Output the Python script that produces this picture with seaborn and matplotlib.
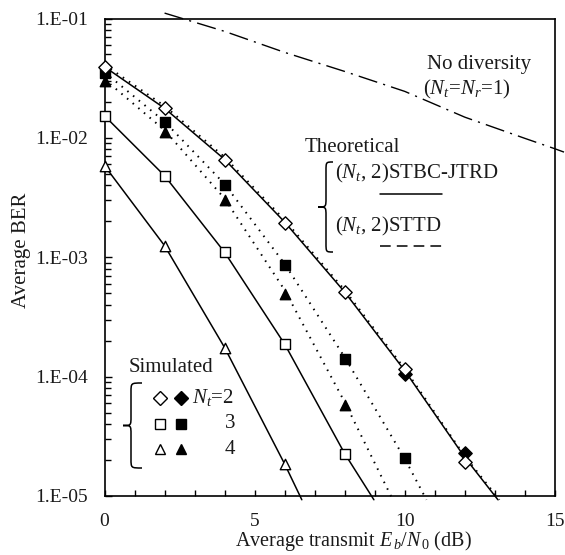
import numpy as np
import pandas as pd
import matplotlib
matplotlib.use("Agg")
import matplotlib.pyplot as plt
import seaborn as sns
from matplotlib.path import Path
from matplotlib.patches import PathPatch
from matplotlib.lines import Line2D
from matplotlib.ticker import LogLocator, NullFormatter, FixedLocator

# ---------------- data ----------------
# simulated points (x in dB)
sim_x_nt2 = [0, 2, 4, 6, 8, 10, 12]
sim_jtrd_nt2 = [3.94e-2, 1.77e-2, 6.53e-3, 1.95e-3, 5.09e-4, 1.15e-4, 1.94e-5]
sim_x_sttd_nt2 = [10, 12]
sim_sttd_nt2 = [1.05e-4, 2.31e-5]
sim_x_nt3 = [0, 2, 4, 6, 8]
sim_jtrd_nt3 = [1.53e-2, 4.82e-3, 1.10e-3, 1.87e-4, 2.26e-5]
sim_x_nt4 = [0, 2, 4, 6]
sim_jtrd_nt4 = [5.85e-3, 1.25e-3, 1.75e-4, 1.85e-5]
sim_x_sttd_nt3 = [0, 2, 4, 6, 8, 10]
sim_sttd_nt3 = [3.47e-2, 1.35e-2, 4.04e-3, 8.61e-4, 1.41e-4, 2.08e-5]
sim_x_sttd_nt4 = [0, 2, 4, 6, 8]
sim_sttd_nt4 = [3.01e-2, 1.13e-2, 3.02e-3, 4.93e-4, 5.80e-5]

# theoretical curves
th_x_jtrd_nt2 = [0, 2, 4, 6, 8, 10, 12, 13.1]
th_jtrd_nt2 = [3.94e-2, 1.77e-2, 6.6e-3, 1.97e-3, 5.1e-4, 1.12e-4, 2.1e-5, 9.3e-6]
th_x_sttd_nt2 = [0, 2, 4, 6, 8, 10, 12, 13.15]
th_sttd_nt2 = [4.1e-2, 1.85e-2, 6.9e-3, 2.05e-3, 5.3e-4, 1.16e-4, 2.15e-5, 9.3e-6]
th_x_jtrd_nt3 = [0, 2, 4, 6, 8, 8.97]
th_jtrd_nt3 = [1.53e-2, 4.82e-3, 1.10e-3, 1.87e-4, 2.26e-5, 9.3e-6]
th_x_jtrd_nt4 = [0, 2, 4, 6, 6.57]
th_jtrd_nt4 = [5.85e-3, 1.25e-3, 1.75e-4, 1.85e-5, 9.3e-6]
th_x_sttd_nt3 = [0, 2, 4, 6, 8, 10, 10.72]
th_sttd_nt3 = [3.55e-2, 1.37e-2, 4.1e-3, 8.8e-4, 1.45e-4, 2.05e-5, 9.3e-6]
th_x_sttd_nt4 = [0, 2, 4, 6, 8, 9.6]
th_sttd_nt4 = [3.1e-2, 1.16e-2, 3.1e-3, 5.3e-4, 6.1e-5, 9.3e-6]

# no diversity
nodiv_x = [2, 4, 6, 8, 10, 12, 14, 15, 15.3]
nodiv_ber = [0.111, 0.078, 0.052, 0.036, 0.0245, 0.0149, 0.0099, 0.0081, 0.0076]

y_ticks = [1e-5, 1e-4, 1e-3, 1e-2, 1e-1]
y_ticklabels = ["1.E-05", "1.E-04", "1.E-03", "1.E-02", "1.E-01"]
x_ticks = [0, 5, 10, 15]

# ---------------- style ----------------
sns.set_theme(style="ticks")
plt.rcParams["font.family"] = ["Liberation Serif", "DejaVu Serif"]
plt.rcParams["mathtext.fontset"] = "custom"
plt.rcParams["mathtext.rm"] = "Liberation Serif"
plt.rcParams["mathtext.it"] = "Liberation Serif:italic"
plt.rcParams["mathtext.bf"] = "Liberation Serif:bold"

W, H = 565, 555
fig = plt.figure(figsize=(W / 100, H / 100), dpi=100)
L, R, T, B = 104.5, 555, 18.5, 496
ax = fig.add_axes([L / W, 1 - B / H, (R - L) / W, (B - T) / H])
ax.set_yscale("log")
ax.set_xlim(0, 15)
ax.set_ylim(1e-5, 1e-1)


def px(x, y):
    return (x / W, 1 - y / H)


lw = 1.1
solid_kw = dict(color="black", linewidth=lw, clip_on=False)
dot_kw = dict(color="black", linewidth=1.4, clip_on=False)

for xs, ys in [(th_x_jtrd_nt2, th_jtrd_nt2), (th_x_jtrd_nt3, th_jtrd_nt3),
               (th_x_jtrd_nt4, th_jtrd_nt4)]:
    sns.lineplot(x=xs, y=ys, ax=ax, sort=False, estimator=None, **solid_kw)

for xs, ys in [(th_x_sttd_nt2, th_sttd_nt2), (th_x_sttd_nt3, th_sttd_nt3),
               (th_x_sttd_nt4, th_sttd_nt4)]:
    sns.lineplot(x=xs, y=ys, ax=ax, sort=False, estimator=None, **dot_kw)
    ax.lines[-1].set_dashes((0.8, 3.0))

sns.lineplot(x=nodiv_x, y=nodiv_ber, ax=ax, sort=False, estimator=None,
             color="black", linewidth=1.0, clip_on=False)
ax.lines[-1].set_dashes((14, 4.5, 1.5, 4.5))

mk_lw = 1.0
SZ = {"D": 6.8, "s": 6.5, "^": 7.5}


def scat(xs, ys, marker, filled):
    sns.scatterplot(x=xs, y=ys, ax=ax, marker=marker, s=SZ[marker] ** 2,
                    facecolor="black" if filled else "white",
                    edgecolor="black", linewidth=mk_lw, zorder=5, clip_on=False)


scat(sim_x_sttd_nt2, sim_sttd_nt2, "D", True)
scat(sim_x_sttd_nt3, sim_sttd_nt3, "s", True)
scat(sim_x_sttd_nt4, sim_sttd_nt4, "^", True)
scat(sim_x_nt2, sim_jtrd_nt2, "D", False)
scat(sim_x_nt3, sim_jtrd_nt3, "s", False)
scat(sim_x_nt4, sim_jtrd_nt4, "^", False)

# ---------------- axes ----------------
ax.yaxis.set_major_locator(FixedLocator(y_ticks))
ax.set_yticklabels(y_ticklabels)
ax.yaxis.set_minor_locator(LogLocator(base=10, subs=np.arange(2, 10)))
ax.yaxis.set_minor_formatter(NullFormatter())
ax.set_xticks(x_ticks)
ax.set_xticklabels([str(v) for v in x_ticks])
ax.xaxis.set_minor_locator(FixedLocator(np.arange(0, 16, 1)))
ax.tick_params(axis="both", which="both", direction="in", color="black",
               width=1.0, labelsize=14, labelcolor="#1a1a1a")
ax.tick_params(axis="y", which="major", length=5, pad=12)
ax.tick_params(axis="y", which="minor", length=4.5)
ax.tick_params(axis="x", which="major", length=4, pad=12)
ax.tick_params(axis="x", which="minor", length=4)
ax.tick_params(top=False, right=False)
for s in ax.spines.values():
    s.set_color("black")
    s.set_linewidth(1.2)
ax.set_xlabel("")
ax.set_ylabel("")
ax.grid(False)

tc = "#1a1a1a"
fig.text(*px(22, 250), "Average BER", rotation=90, ha="center", va="center",
         fontsize=15, color=tc)
fig.text(*px(353, 541), r"Average transmit $E_{\,b}/N_{\,0}$ (dB)", ha="center",
         va="center", fontsize=14.5, color=tc)

# annotations
fig.text(*px(427, 65), "No diversity", ha="left", va="center", fontsize=15, color=tc)
fig.text(*px(423, 89), r"($N_t$=$N_r$=1)", ha="left", va="center", fontsize=15, color=tc)
fig.text(*px(305, 148), "Theoretical", ha="left", va="center", fontsize=15, color=tc)
fig.text(*px(335, 173), r"($N_t$, 2)STBC-JTRD", ha="left", va="center", fontsize=15, color=tc)
fig.text(*px(335, 226), r"($N_t$, 2)STTD", ha="left", va="center", fontsize=15, color=tc)
fig.text(*px(129, 367), "Simulated", ha="left", va="center", fontsize=15, color=tc)
fig.text(*px(192, 398), r"$N_t$=2", ha="left", va="center", fontsize=15, color=tc)
fig.text(*px(230, 424), "3", ha="center", va="center", fontsize=15, color=tc)
fig.text(*px(230, 449), "4", ha="center", va="center", fontsize=15, color=tc)

# legend sample lines
fig.add_artist(Line2D([380 / W, 442 / W], [1 - 194 / H] * 2, color="black",
                      linewidth=1.1, transform=fig.transFigure))
dl = Line2D([380 / W, 443 / W], [1 - 246 / H] * 2, color="black",
            linewidth=1.1, transform=fig.transFigure)
dl.set_dashes((7, 4))
fig.add_artist(dl)

# legend markers
rows = [(398, "D"), (424, "s"), (449, "^")]
for yy, mk in rows:
    for xx, filled in [(160, False), (181, True)]:
        fig.add_artist(Line2D([xx / W], [1 - yy / H], marker=mk, markersize=SZ[mk],
                              markerfacecolor="black" if filled else "white",
                              markeredgecolor="black", markeredgewidth=mk_lw,
                              linestyle="none", transform=fig.transFigure))


def brace(xt, xb, xe, y0, y1, r=8):
    ym = (y0 + y1) / 2
    pts = [(xe, y0), (xb, y0), (xb, y0), (xb, y0 + r),
           (xb, ym - r),
           (xb, ym), (xb, ym), (xt, ym),
           (xb, ym), (xb, ym), (xb, ym + r),
           (xb, y1 - r),
           (xb, y1), (xb, y1), (xe, y1)]
    codes = [Path.MOVETO, Path.CURVE4, Path.CURVE4, Path.CURVE4,
             Path.LINETO,
             Path.CURVE4, Path.CURVE4, Path.CURVE4,
             Path.CURVE4, Path.CURVE4, Path.CURVE4,
             Path.LINETO,
             Path.CURVE4, Path.CURVE4, Path.CURVE4]
    pts = [px(x, y) for x, y in pts]
    p = PathPatch(Path(pts, codes), facecolor="none", edgecolor="black",
                  linewidth=1.1, transform=fig.transFigure)
    fig.add_artist(p)


brace(318, 326, 333, 162, 252, r=9)
brace(123, 131, 142, 383, 468, r=9)

fig.savefig("out.png", dpi=100)
